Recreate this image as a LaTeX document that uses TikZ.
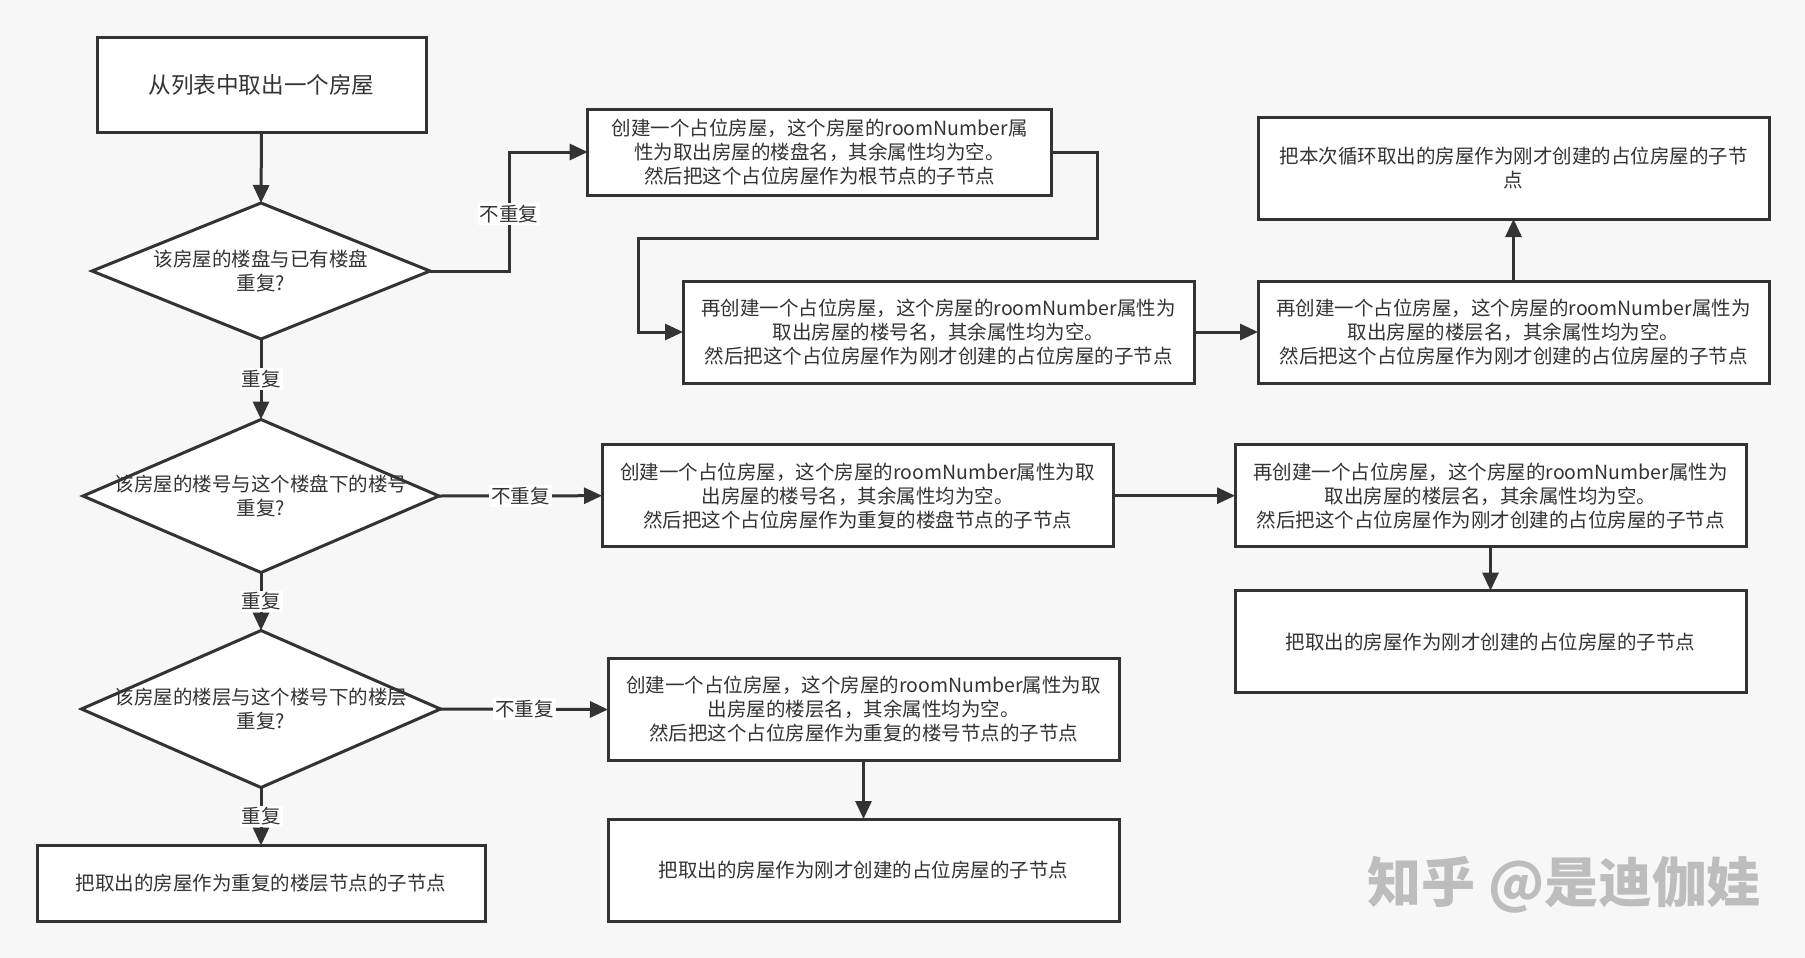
\documentclass[tikz,border=0pt]{standalone}
\usepackage{fontspec}
\setmainfont{Noto Sans CJK SC}
\usetikzlibrary{arrows.meta,shapes.geometric,calc}
\definecolor{bg}{HTML}{F7F7F7}
\definecolor{ln}{HTML}{333333}
\definecolor{wmc}{HTML}{BDBDBD}
\begin{document}
\begin{tikzpicture}[x=0.5pt,y=-0.5pt,
  txt/.style={font=\fontsize{9.75pt}{12pt}\selectfont, text=ln},
  box/.style={txt, draw=ln, line width=1.5pt, fill=white, rectangle, inner sep=2pt, outer sep=0pt, align=center},
  dia/.style={draw=ln, line width=1.5pt, fill=white, diamond, inner sep=0pt, outer sep=0pt},
  dtext/.style={txt, align=center, inner sep=0pt},
  arr/.style={draw=ln, line width=1.5pt, -{Triangle[length=9pt,width=8pt]}},
  lbl/.style={txt, fill=white, inner sep=1pt}
]
\fill[bg] (0,0) rectangle (1805,958);
\useasboundingbox (0,0) rectangle (1805,958);

% left column
\node[box, minimum width=164.5pt, minimum height=47.5pt, font=\fontsize{11.3pt}{13pt}\selectfont] (a) at (261.5,84.5) {从列表中取出一个房屋};
\node[dia, minimum width=169pt, minimum height=68pt] (d1) at (261,271) {};
\node[dtext] (d1t) at (261,271) {该房屋的楼盘与已有楼盘\\重复?};
\node[dia, minimum width=178pt, minimum height=76.5pt] (d2) at (261,496) {};
\node[dtext] (d2t) at (261,496) {该房屋的楼号与这个楼盘下的楼号\\重复?};
\node[dia, minimum width=179.5pt, minimum height=78.5pt] (d3) at (261,709) {};
\node[dtext] (d3t) at (261,709) {该房屋的楼层与这个楼号下的楼层\\重复?};
\node[box, minimum width=224pt, minimum height=38pt] (h) at (261,883.5) {把取出的房屋作为重复的楼层节点的子节点};

% top row
\node[box, minimum width=232pt, minimum height=43pt] (b) at (819.7,152) {创建一个占位房屋，这个房屋的roomNumber属\\性为取出房屋的楼盘名，其余属性均为空。\\然后把这个占位房屋作为根节点的子节点};
\node[box, minimum width=255.5pt, minimum height=51pt] (c) at (938.5,332) {再创建一个占位房屋，这个房屋的roomNumber属性为\\取出房屋的楼号名，其余属性均为空。\\然后把这个占位房屋作为刚才创建的占位房屋的子节点};
\node[box, minimum width=255.5pt, minimum height=51pt] (d) at (1513.5,332) {再创建一个占位房屋，这个房屋的roomNumber属性为\\取出房屋的楼层名，其余属性均为空。\\然后把这个占位房屋作为刚才创建的占位房屋的子节点};
\node[box, minimum width=255.5pt, minimum height=51pt] (e) at (1513.5,168) {把本次循环取出的房屋作为刚才创建的占位房屋的子节\\点};

% middle row
\node[box, minimum width=255.5pt, minimum height=51pt] (f) at (857.5,495.7) {创建一个占位房屋，这个房屋的roomNumber属性为取\\出房屋的楼号名，其余属性均为空。\\然后把这个占位房屋作为重复的楼盘节点的子节点};
\node[box, minimum width=255.5pt, minimum height=51pt] (i) at (1490.5,495.7) {再创建一个占位房屋，这个房屋的roomNumber属性为\\取出房屋的楼层名，其余属性均为空。\\然后把这个占位房屋作为刚才创建的占位房屋的子节点};
\node[box, minimum width=255.5pt, minimum height=51pt] (k) at (1490.5,641.6) {把取出的房屋作为刚才创建的占位房屋的子节点};

% bottom row
\node[box, minimum width=255.5pt, minimum height=51pt] (g) at (863.5,709.5) {创建一个占位房屋，这个房屋的roomNumber属性为取\\出房屋的楼层名，其余属性均为空。\\然后把这个占位房屋作为重复的楼号节点的子节点};
\node[box, minimum width=255.5pt, minimum height=51pt] (j) at (863.5,870) {把取出的房屋作为刚才创建的占位房屋的子节点};

% watermark
\node[font=\fontsize{27pt}{29pt}\selectfont\bfseries, text=wmc, inner sep=0pt] (wm) at (1564,885) {知乎 @是迪伽娃};

% helper coordinates
\coordinate (e1) at (509,271);
\coordinate (c1) at (1097,238);
\coordinate (c2) at (638,238);

% connectors
\draw[arr] (a.south) -- (d1.north);
\draw[arr] (d1.east) -- (e1) |- node[lbl, pos=0.24] {不重复} (b.west);
\draw[arr] (b.east) -| (c1) -- (c2) |- (c.west);
\draw[arr] (c.east) -- (d.west);
\draw[arr] (d.north) -- (e.south);
\draw[arr] (d1.south) -- node[lbl] {重复} (d2.north);
\draw[arr] (d2.east) -- node[lbl] {不重复} (f.west);
\draw[arr] (d2.south) -- node[lbl] {重复} (d3.north);
\draw[arr] (d3.east) -- node[lbl] {不重复} (g.west);
\draw[arr] (d3.south) -- node[lbl] {重复} (h.north);
\draw[arr] (f.east) -- (i.west);
\draw[arr] (i.south) -- (k.north);
\draw[arr] (g.south) -- (j.north);
\end{tikzpicture}
\end{document}
